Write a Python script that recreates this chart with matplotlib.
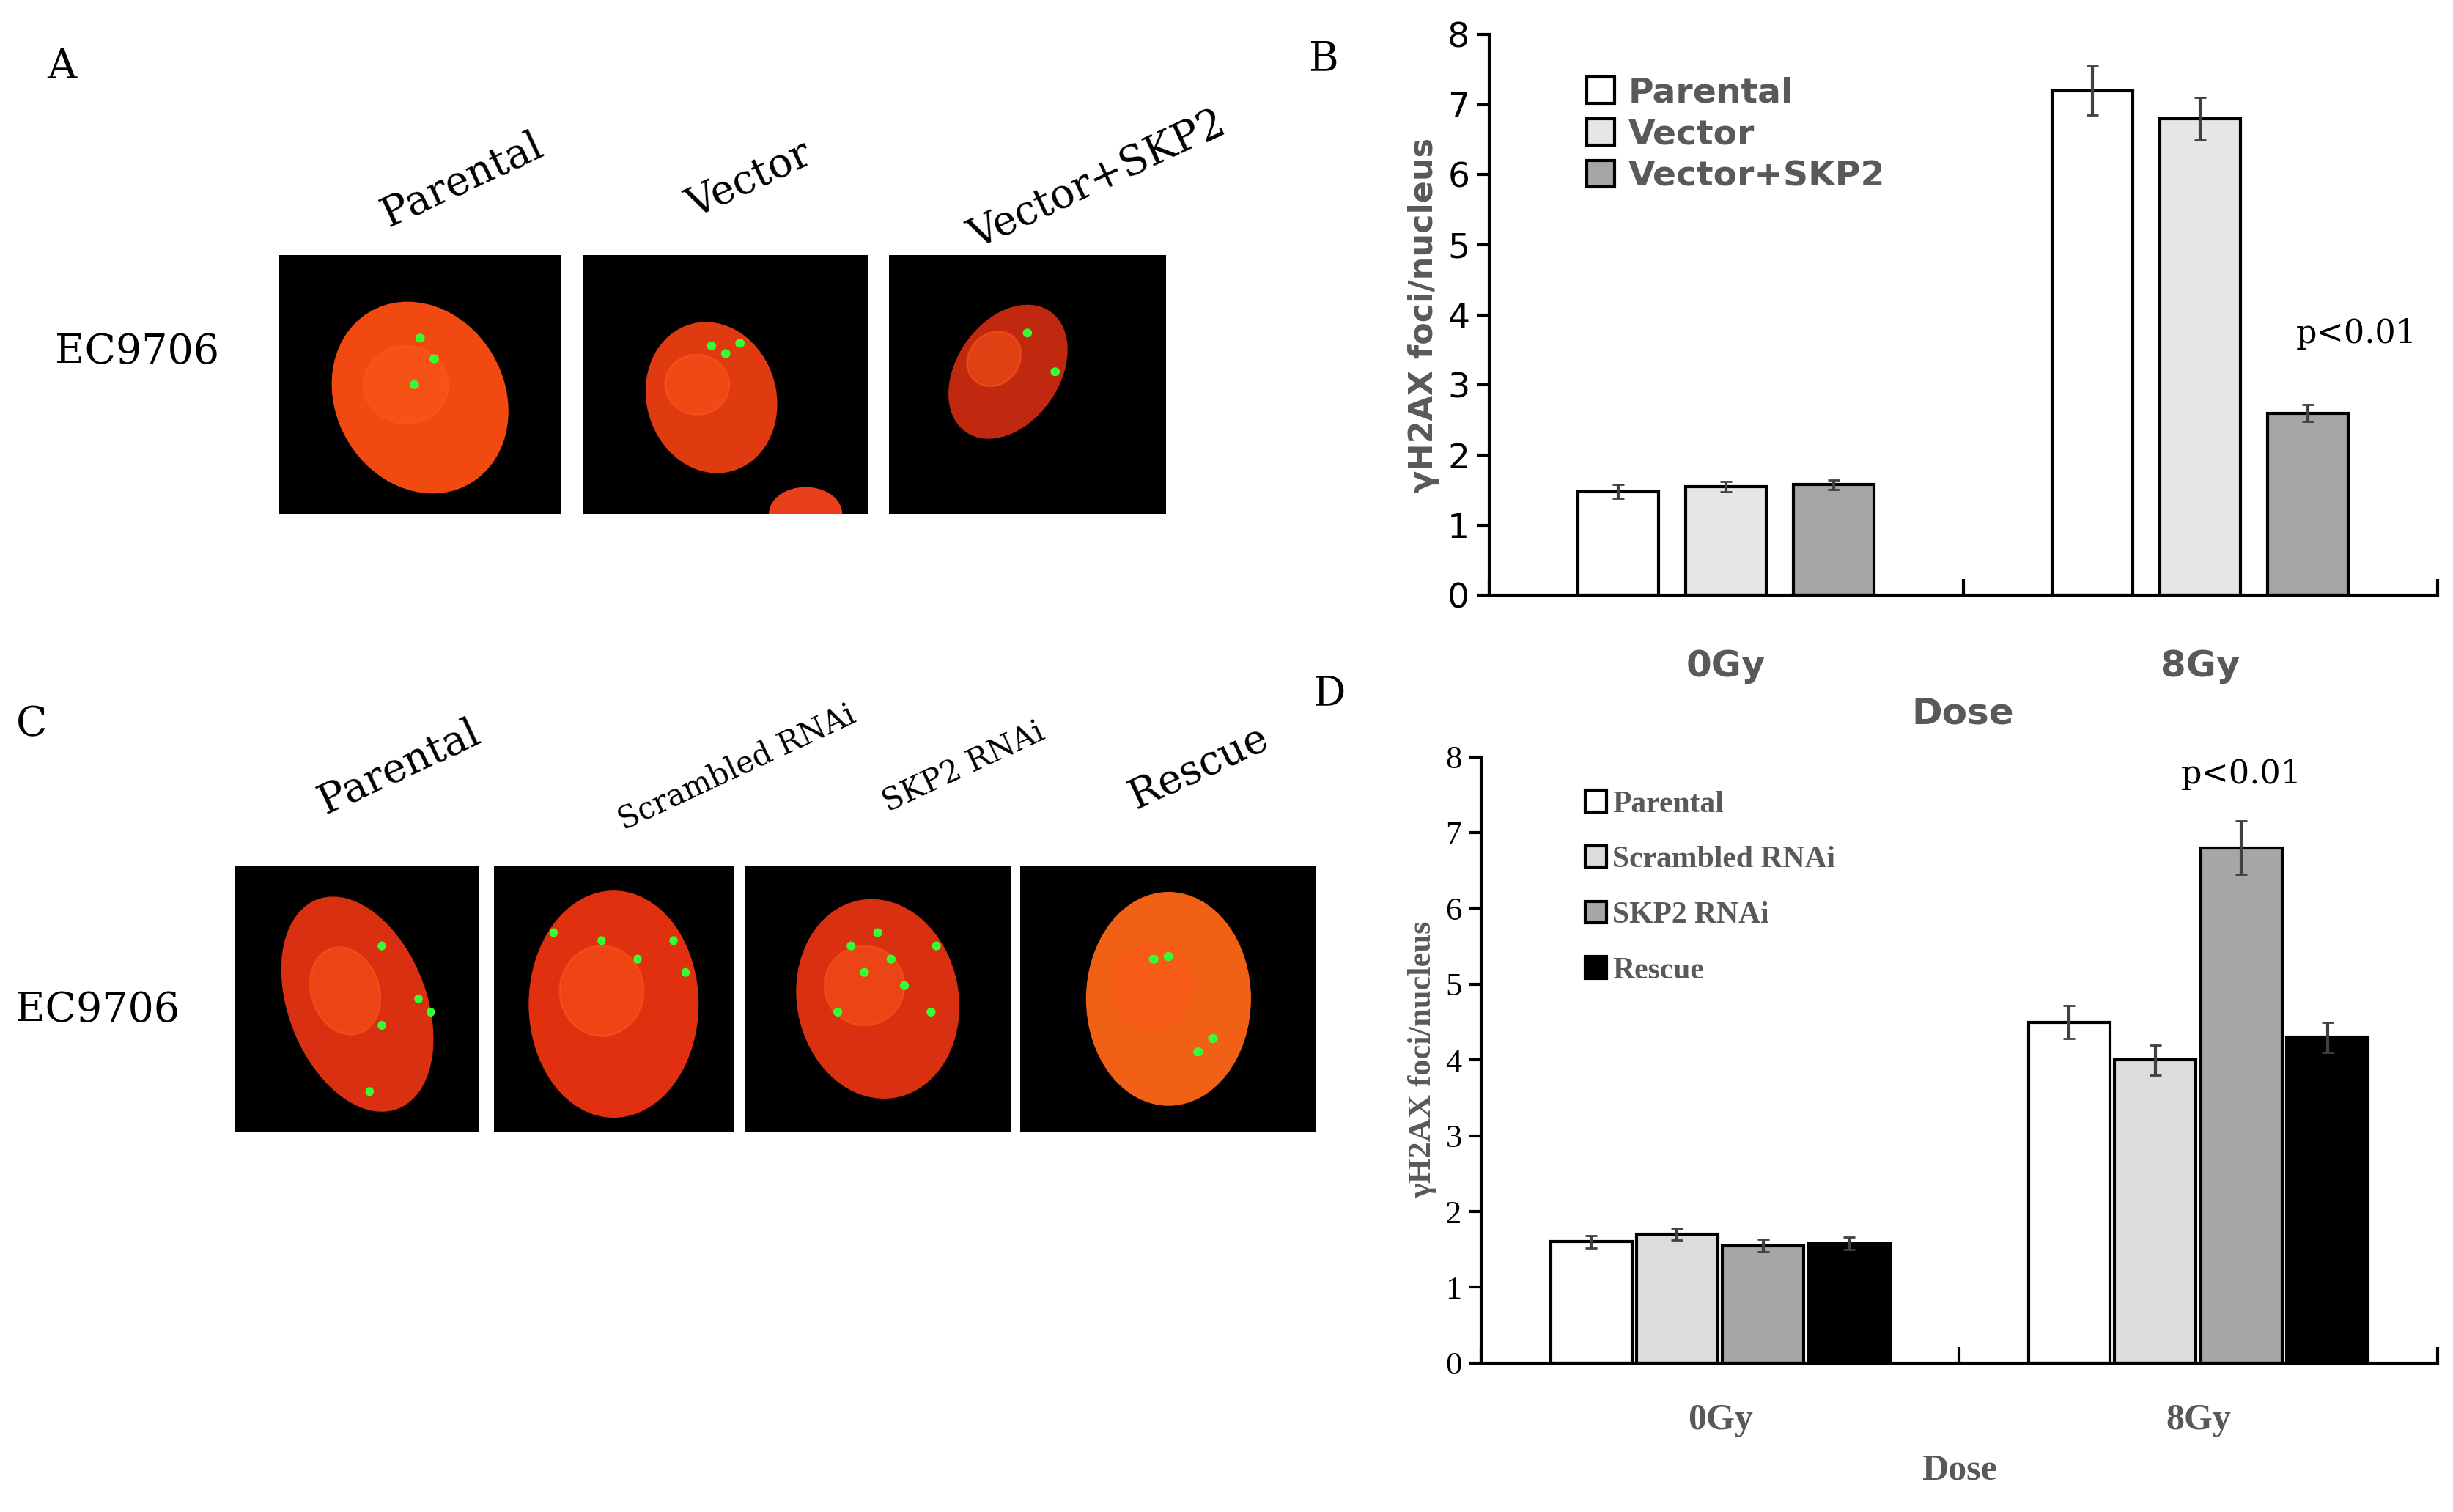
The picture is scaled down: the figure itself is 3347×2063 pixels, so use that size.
import numpy as np
import matplotlib.pyplot as plt
from matplotlib.patches import Ellipse, Circle

W, H = 1565, 965  # layout units of the reference

doses = ['0Gy', '8Gy']
b_labels = ['Parental', 'Vector', 'Vector+SKP2']
b_vals = [[1.48, 1.55, 1.58], [7.2, 6.8, 2.6]]
b_err = [[0.1, 0.07, 0.07], [0.35, 0.3, 0.12]]
b_colors = ['white', '#e6e6e6', '#a5a5a5']

d_labels = ['Parental', 'Scrambled RNAi', 'SKP2 RNAi', 'Rescue']
d_vals = [[1.6, 1.7, 1.55, 1.58], [4.5, 4.0, 6.8, 4.3]]
d_err = [[0.08, 0.08, 0.08, 0.08], [0.22, 0.2, 0.35, 0.2]]
d_colors = ['white', '#dcdcdc', '#a6a6a6', 'black']

fig = plt.figure(figsize=(16.735, 10.315), dpi=200)


def ax_px(x0, y0, x1, y1):
    return fig.add_axes([x0 / W, 1 - y1 / H, (x1 - x0) / W, (y1 - y0) / H])


def txt(x, y, s, **kw):
    fig.text(x / W, 1 - y / H, s, **kw)


def cell(x0, y0, x1, y1, ell, dots, extra=None):
    a = ax_px(x0, y0, x1, y1)
    a.set_facecolor('black')
    a.set_xlim(0, 1)
    a.set_ylim(0, 1)
    a.set_xticks([])
    a.set_yticks([])
    for s in a.spines.values():
        s.set_visible(False)
    cx, cy, w, h, ang, col = ell
    a.add_patch(Ellipse((cx, cy), w, h, angle=ang, color=col))
    a.add_patch(Ellipse((cx - 0.05, cy + 0.05), w * 0.5, h * 0.4, angle=ang, color='#ff5a1a', alpha=0.5))
    if extra:
        a.add_patch(Ellipse(extra[:2], extra[2], extra[3], color='#e8401a'))
    for dx, dy in dots:
        a.add_patch(Circle((dx, dy), 0.013, color='#33ff33'))


# panel A
txt(30, 50, 'A', fontsize=20, family='serif')
txt(35, 225, 'EC9706', fontsize=20, family='serif', va='center')
cell(178, 163, 358, 328, (0.5, 0.45, 0.6, 0.75, 20, '#f04a10'), [(0.5, 0.68), (0.55, 0.6), (0.48, 0.5)])
cell(372, 163, 554, 328, (0.45, 0.45, 0.45, 0.58, 10, '#e03a10'), [(0.45, 0.65), (0.5, 0.62), (0.55, 0.66)],
     extra=(0.78, 0.0, 0.25, 0.2))
cell(567, 163, 744, 328, (0.43, 0.55, 0.37, 0.55, -30, '#c02810'), [(0.5, 0.7), (0.6, 0.55)])
for x, s in [(295, 'Parental'), (478, 'Vector'), (700, 'Vector+SKP2')]:
    txt(x, 115, s, fontsize=20, family='serif', rotation=25, ha='center', va='center')

# panel C
txt(10, 470, 'C', fontsize=20, family='serif')
txt(10, 645, 'EC9706', fontsize=20, family='serif', va='center')
cell(150, 553, 306, 722, (0.5, 0.48, 0.55, 0.85, 25, '#d83010'), [(0.6, 0.7), (0.75, 0.5), (0.8, 0.45), (0.6, 0.4), (0.55, 0.15)])
cell(315, 553, 468, 722, (0.5, 0.48, 0.7, 0.85, 0, '#e03010'), [(0.25, 0.75), (0.45, 0.72), (0.75, 0.72), (0.8, 0.6), (0.6, 0.65)])
cell(475, 553, 645, 722, (0.5, 0.5, 0.6, 0.75, 10, '#d83010'), [(0.4, 0.7), (0.5, 0.75), (0.55, 0.65), (0.45, 0.6), (0.6, 0.55), (0.7, 0.45), (0.72, 0.7), (0.35, 0.45)])
cell(651, 553, 840, 722, (0.5, 0.5, 0.55, 0.8, 0, '#f06015'), [(0.45, 0.65), (0.5, 0.66), (0.6, 0.3), (0.65, 0.35)])
for x, s, fs in [(255, 'Parental', 20), (470, 'Scrambled RNAi', 15), (615, 'SKP2 RNAi', 15), (765, 'Rescue', 20)]:
    txt(x, 490, s, fontsize=fs, family='serif', rotation=25, ha='center', va='center')


def bars(ax, labels, vals, err, colors, offs, width, fam, tcol, pad, lpad, tsize):
    x = np.arange(len(doses))
    for i, lab in enumerate(labels):
        v = [vals[g][i] for g in range(len(doses))]
        e = [err[g][i] for g in range(len(doses))]
        ax.bar(x + offs[i], v, width, yerr=e, color=colors[i], edgecolor='black', linewidth=1.5,
               error_kw=dict(ecolor='#404040', capsize=3, elinewidth=1.5), label=lab)
    ax.set_xlim(-0.5, 1.5)
    ax.set_ylim(0, 8)
    ax.set_yticks(range(9))
    ax.set_xticks([-0.5, 0.5, 1.5])
    ax.set_xticklabels([])
    ax.set_xticks(x, minor=True)
    ax.set_xticklabels(doses, minor=True, fontsize=18, fontweight='bold', family=fam, color=tcol)
    ax.tick_params(axis='x', which='minor', length=0, pad=pad)
    ax.tick_params(axis='x', which='major', length=8, width=1.5, direction='in')
    ax.tick_params(axis='y', length=6, width=1.5, labelsize=tsize)
    for t in ax.get_yticklabels():
        t.set_family(fam)
    ax.spines['top'].set_visible(False)
    ax.spines['right'].set_visible(False)
    ax.spines['left'].set_linewidth(1.5)
    ax.spines['bottom'].set_linewidth(1.5)
    ax.set_xlabel('Dose', fontsize=18, fontweight='bold', family=fam, color=tcol, labelpad=lpad)
    ax.set_ylabel('γH2AX foci/nucleus', fontsize=16, fontweight='bold', family=fam, color=tcol)
    return x


# panel B
txt(835, 45, 'B', fontsize=20, family='serif')
axb = ax_px(950, 22, 1555, 380)
xb = bars(axb, b_labels, b_vals, b_err, b_colors, [-0.227, 0, 0.227], 0.17, 'DejaVu Sans', '#595959',
          26, 6, 17)
axb.text(xb[1] + 0.33, 3.6, 'p<0.01', fontsize=16, family='serif', ha='center')
axb.legend(loc='upper left', bbox_to_anchor=(0.07, 0.98), frameon=False,
           prop=dict(weight='bold', size=17), labelcolor='#595959', handlelength=0.8, handleheight=0.8,
           labelspacing=0.25, handletextpad=0.4)

# panel D
txt(838, 450, 'D', fontsize=20, family='serif')
axd = ax_px(945, 483, 1555, 870)
xd = bars(axd, d_labels, d_vals, d_err, d_colors, [-0.27, -0.09, 0.09, 0.27], 0.17, 'Liberation Serif', '#595959',
          20, 8, 16)
axd.text(xd[1] + 0.09, 7.65, 'p<0.01', fontsize=16, family='serif', ha='center')
axd.legend(loc='upper left', bbox_to_anchor=(0.08, 0.99), frameon=False,
           prop=dict(weight='bold', size=15, family='Liberation Serif'), labelcolor='#595959',
           handlelength=0.7, handleheight=0.7, labelspacing=0.9, handletextpad=0.2)

fig.savefig('out.png', dpi=200, facecolor='white')
